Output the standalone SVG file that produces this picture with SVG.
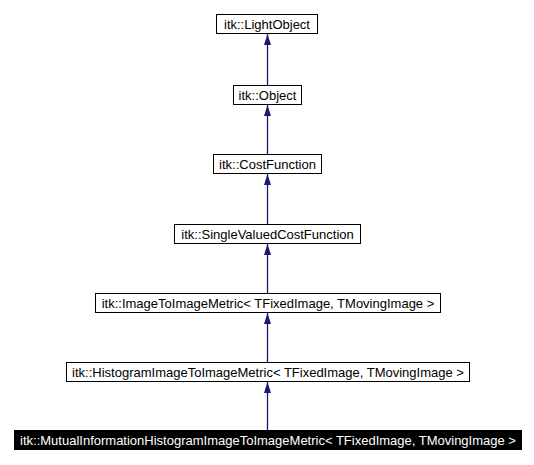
<svg xmlns="http://www.w3.org/2000/svg" width="534" height="465" viewBox="0 0 534 465">
<defs>
<style>
.box{fill:#fff;stroke:#000;stroke-width:1}
.sel{fill:#000;stroke:#000;stroke-width:1}
.t{font-family:"Liberation Sans",Arial,sans-serif;font-size:13px;fill:#000;text-anchor:middle}
.ts{font-family:"Liberation Sans",Arial,sans-serif;font-size:13px;fill:#fff;text-anchor:middle}
.edge{stroke:#191970;stroke-width:1.3;fill:none}
</style>
<marker id="arr" viewBox="0 0 11 7" refX="11" refY="3.5" markerWidth="11" markerHeight="7" markerUnits="userSpaceOnUse" orient="auto">
<path d="M0,0 L11,3.5 L0,7 Z" fill="#191970"/>
</marker>
</defs>
<rect width="534" height="465" fill="#fff"/>
<g id="connectors">
<line class="edge" x1="267.5" y1="85" x2="267.5" y2="34" marker-end="url(#arr)"/>
<line class="edge" x1="267.5" y1="154" x2="267.5" y2="105" marker-end="url(#arr)"/>
<line class="edge" x1="267.5" y1="224" x2="267.5" y2="174" marker-end="url(#arr)"/>
<line class="edge" x1="267.5" y1="293" x2="267.5" y2="244" marker-end="url(#arr)"/>
<line class="edge" x1="267.5" y1="362" x2="267.5" y2="313" marker-end="url(#arr)"/>
<line class="edge" x1="267.5" y1="430" x2="267.5" y2="382" marker-end="url(#arr)"/>
</g>
<g id="lightobject">
<rect class="box" x="216.5" y="14.5" width="101" height="19"/>
<text class="t" x="267" y="28.5">itk::LightObject</text>
</g>
<g id="object">
<rect class="box" x="233.5" y="85.5" width="68" height="19"/>
<text class="t" x="267.5" y="99.5">itk::Object</text>
</g>
<g id="costfunction">
<rect class="box" x="213.5" y="154.5" width="108" height="19"/>
<text class="t" x="267.5" y="168.5">itk::CostFunction</text>
</g>
<g id="singlevaluedcostfunction">
<rect class="box" x="174.5" y="224.5" width="186" height="19"/>
<text class="t" x="267.5" y="238.5">itk::SingleValuedCostFunction</text>
</g>
<g id="imagetoimagemetric">
<rect class="box" x="95.5" y="293.5" width="345" height="19"/>
<text class="t" x="268" y="307.5">itk::ImageToImageMetric&lt; TFixedImage, TMovingImage &gt;</text>
</g>
<g id="histogramimagetoimagemetric">
<rect class="box" x="66.5" y="362.5" width="403" height="19"/>
<text class="t" x="268" y="376.5">itk::HistogramImageToImageMetric&lt; TFixedImage, TMovingImage &gt;</text>
</g>
<g id="mutualinformationhistogramimagetoimagemetric">
<rect class="sel" x="14.5" y="430.5" width="507" height="19"/>
<text class="ts" x="268" y="444.5">itk::MutualInformationHistogramImageToImageMetric&lt; TFixedImage, TMovingImage &gt;</text>
</g>
</svg>
